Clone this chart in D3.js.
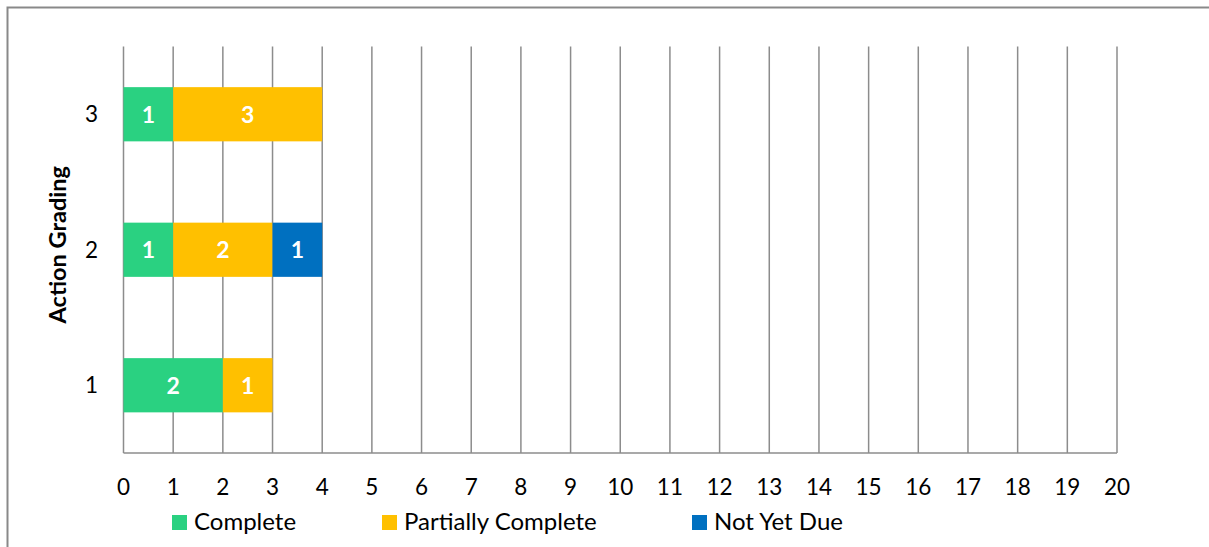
<!DOCTYPE html>
<html>
<head>
<meta charset="utf-8">
<script src="https://cdn.jsdelivr.net/npm/d3@7"></script>
<style>
  html, body { margin: 0; padding: 0; background: #fff; }
  svg { display: block; font-family: Lato, "Open Sans", sans-serif; }
</style>
</head>
<body>
<svg id="chart" width="1209" height="547"></svg>
<script>
const categories = ["1", "2", "3"];
const seriesNames = ["Complete", "Partially Complete", "Not Yet Due"];
const complete = [2, 1, 1];
const partiallyComplete = [1, 2, 3];
const notYetDue = [0, 1, 0];
const xTicks = d3.range(0, 21);
const colors = ["#2AD181", "#FFC000", "#0070C0"];

(function () {
const svg = d3.select("#chart");
const W = 1209, H = 547;

// Outer border
svg.append("rect").attr("x", 7.5).attr("y", 7.5).attr("width", W + 10).attr("height", H + 10)
  .attr("fill", "none").attr("stroke", "#898989").attr("stroke-width", 2);

const pLeft = 123.5, pRight = 1117, pTop = 46.5, pBottom = 453;
const x = d3.scaleLinear().domain([0, 20]).range([pLeft, pRight]);
const y = d3.scaleBand().domain(categories.slice().reverse()).range([pTop, pBottom])
  .paddingInner(0.6).paddingOuter(0.3);

// gridlines
svg.append("g").selectAll("line").data(xTicks).join("line")
  .attr("x1", d => x(d)).attr("x2", d => x(d))
  .attr("y1", pTop).attr("y2", pBottom)
  .attr("stroke", "#8c8c8c").attr("stroke-width", 1.5);
// baseline
svg.append("line").attr("x1", pLeft).attr("x2", pRight).attr("y1", pBottom).attr("y2", pBottom)
  .attr("stroke", "#8c8c8c").attr("stroke-width", 1.5);

// stacked data
const rows = categories.map((c, i) => ({ cat: c, "Complete": complete[i], "Partially Complete": partiallyComplete[i], "Not Yet Due": notYetDue[i] }));
const stack = d3.stack().keys(seriesNames)(rows);

const g = svg.append("g");
stack.forEach((layer, li) => {
  layer.forEach(seg => {
    const v = seg[1] - seg[0];
    if (v <= 0) return;
    g.append("rect")
      .attr("x", x(seg[0])).attr("width", x(seg[1]) - x(seg[0]))
      .attr("y", y(seg.data.cat)).attr("height", y.bandwidth())
      .attr("fill", colors[li]);
    g.append("text")
      .attr("x", (x(seg[0]) + x(seg[1])) / 2)
      .attr("y", y(seg.data.cat) + y.bandwidth() / 2)
      .attr("dy", "0.36em")
      .attr("text-anchor", "middle")
      .attr("fill", "#fff").attr("font-weight", "bold").attr("font-size", 23)
      .text(v);
  });
});

// x tick labels
svg.append("g").selectAll("text").data(xTicks).join("text")
  .attr("x", d => x(d)).attr("y", 495)
  .attr("text-anchor", "middle").attr("font-size", 22.5).attr("fill", "#000")
  .text(d => d);

// y tick labels
svg.append("g").selectAll("text").data(categories).join("text")
  .attr("x", 98).attr("y", d => y(d) + y.bandwidth() / 2).attr("dy", "0.36em")
  .attr("text-anchor", "end").attr("font-size", 22.5).attr("fill", "#000")
  .text(d => d);

// y axis title
svg.append("text")
  .attr("transform", `translate(66, ${(pTop + pBottom) / 2 - 5}) rotate(-90)`)
  .attr("text-anchor", "middle").attr("font-weight", "bold").attr("font-size", 23.5)
  .attr("fill", "#000").text("Action Grading");

// legend
const legendX = [172, 382, 692];
const lg = svg.append("g");
seriesNames.forEach((s, i) => {
  lg.append("rect").attr("x", legendX[i]).attr("y", 515).attr("width", 15).attr("height", 15).attr("fill", colors[i]);
  lg.append("text").attr("x", legendX[i] + 22).attr("y", 530)
    .attr("font-size", 24).attr("fill", "#000").text(s);
});
})();
</script>
</body>
</html>
